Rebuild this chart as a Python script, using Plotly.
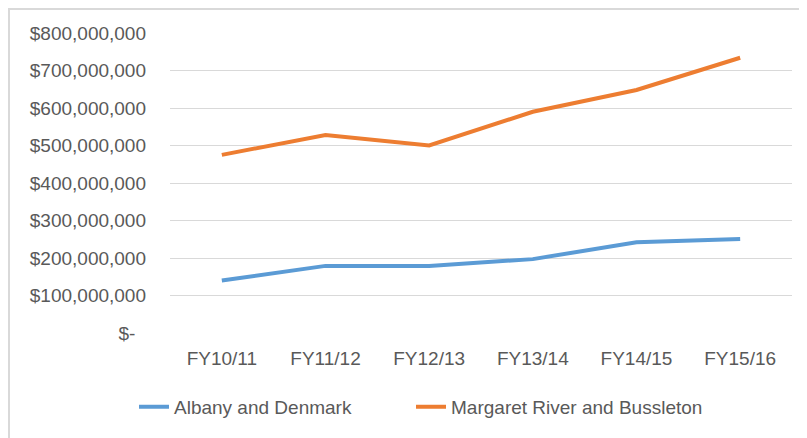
import plotly.graph_objects as go

categories = ["FY10/11", "FY11/12", "FY12/13", "FY13/14", "FY14/15", "FY15/16"]
albany = [140e6, 179e6, 179e6, 197e6, 242e6, 251e6]
margaret = [475e6, 528e6, 500e6, 590e6, 648e6, 734e6]
series_names = ["Albany and Denmark", "Margaret River and Bussleton"]
tick_vals = [0, 100e6, 200e6, 300e6, 400e6, 500e6, 600e6, 700e6, 800e6]
tick_text = ["$-\u00a0\u00a0", "$100,000,000", "$200,000,000", "$300,000,000", "$400,000,000",
             "$500,000,000", "$600,000,000", "$700,000,000", "$800,000,000"]

FONT = "Liberation Sans, Arial, sans-serif"
GRAY = "#595959"

fig = go.Figure()
fig.add_trace(go.Scatter(x=categories, y=albany, mode="lines", name=series_names[0],
                         line=dict(color="#5B9BD5", width=4), legend="legend"))
fig.add_trace(go.Scatter(x=categories, y=margaret, mode="lines", name=series_names[1],
                         line=dict(color="#ED7D31", width=4), legend="legend2"))

leg_common = dict(orientation="h", yanchor="top", xanchor="left", y=-0.183,
                  font=dict(family=FONT, size=19, color=GRAY), bgcolor="rgba(0,0,0,0)")

fig.update_layout(
    width=799, height=430,
    margin=dict(l=162, r=15, t=25, b=105),
    paper_bgcolor="white", plot_bgcolor="white",
    font=dict(family=FONT, size=19, color=GRAY),
    showlegend=True,
    legend=dict(x=-0.0579, **leg_common),
    legend2=dict(x=0.3875, **leg_common),
    xaxis=dict(type="category", range=[-0.5, 5.5], showgrid=False, showline=False,
               ticks="", zeroline=False, ticklabelstandoff=12,
               tickfont=dict(size=19, color=GRAY)),
    yaxis=dict(range=[0, 800e6], tickvals=tick_vals, ticktext=tick_text,
               showgrid=True, gridcolor="#d9d9d9", gridwidth=1, zeroline=False,
               showline=False, ticks="", ticklabelstandoff=23,
               tickfont=dict(size=19, color=GRAY)),
    shapes=[dict(type="rect", xref="paper", yref="paper",
                 x0=(1 - 162) / 622, x1=1.3,
                 y0=-0.6, y1=1 + (25 - 1) / 300,
                 line=dict(color="#d9d9d9", width=2),
                 fillcolor="rgba(0,0,0,0)", layer="below")],
)

fig.write_html("out.html")
